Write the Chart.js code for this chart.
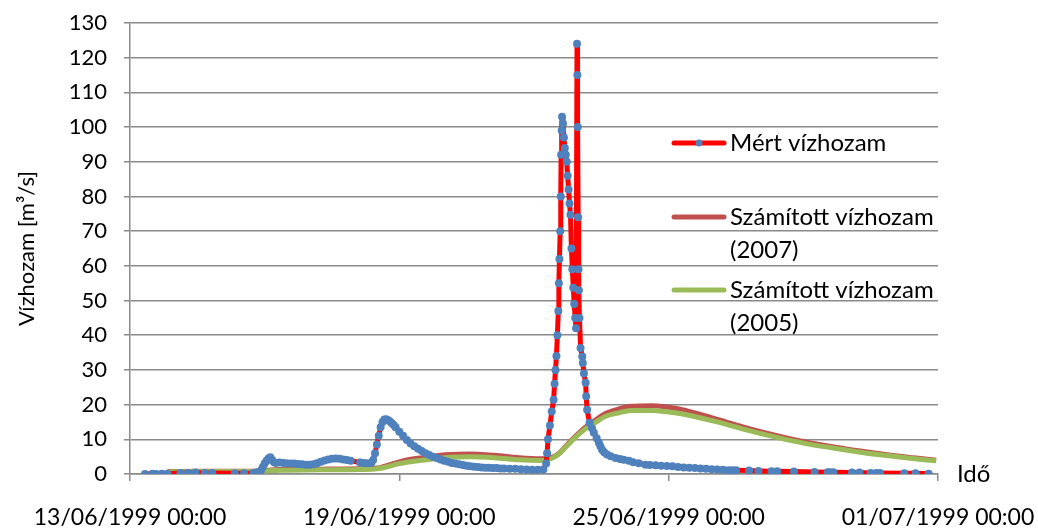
<!DOCTYPE html>
<html>
<head>
<meta charset="utf-8">
<script src="https://cdn.jsdelivr.net/npm/chart.js@4.4.1/dist/chart.umd.min.js"></script>
<style>
  html, body { margin: 0; padding: 0; background: #fff; }
  #chart { display: block; }
</style>
</head>
<body>
<canvas id="chart" width="1038" height="529"></canvas>
<script>
// time is in hours counted from 13/06/1999 00:00
const measuredHours = [
  8, 12, 14, 17, 20, 27, 31, 35, 40, 44,
  56, 61, 66, 68, 70, 71, 72, 73, 74, 75,
  76, 77, 78, 80, 82, 84, 86, 88, 90, 92,
  94, 96, 98, 100, 102, 104, 106, 108, 110, 112,
  114, 116, 118, 123, 125, 127, 129, 130, 131, 132,
  133, 134, 135, 136, 137, 138, 139, 140, 141, 142,
  144, 146, 148, 150, 152, 154, 156, 158, 160, 162,
  164, 166, 168, 170, 172, 174, 176, 178, 180, 182,
  184, 186, 188, 190, 192, 194, 196, 198, 200, 203,
  206, 209, 212, 215, 218, 221, 222.5, 223, 223.5, 224.5,
  225.5, 226.5, 227, 227.5, 228, 228.5, 229, 229.3, 229.6, 230,
  230.3, 230.5, 230.8, 231, 231.5, 232, 232.5, 233, 233.5, 234,
  234.5, 235, 235.5, 236, 236.5, 237, 237.5, 238, 238.5, 239,
  239.2, 239.4, 239.6, 239.8, 240, 240.3, 240.9, 241.8, 242.1, 242.7,
  243.6, 243.9, 244.4, 245.7, 247, 248, 249.5, 250.7, 251.5, 252.4,
  253.5, 255, 257, 259.6, 262, 264, 266.7, 269, 272, 275.6,
  278, 281, 284, 287, 290, 293, 296, 299, 302, 305,
  308, 311, 314, 317, 320, 322, 324, 331, 336, 343,
  346, 355, 366, 373, 374, 376, 386, 390, 396, 399,
  401, 414, 420, 427
];
const measuredFlow = [
  0, 0.1, 0, 0.1, 0.1, 0.3, 0.3, 0.4, 0.3, 0.3,
  0.2, 0.2, 0.3, 0.4, 1.0, 2.0, 3.0, 3.8, 4.5, 4.8,
  4.0, 3.4, 3.2, 3.3, 3.2, 3.1, 3.0, 3.0, 2.9, 2.8,
  2.7, 2.7, 2.8, 3.1, 3.5, 3.9, 4.2, 4.4, 4.5, 4.4,
  4.2, 4.0, 3.8, 3.3, 3.2, 3.1, 3.2, 4.0, 6.0, 8.5,
  11, 13.5, 15, 15.7, 15.8, 15.5, 15.1, 14.6, 14.1, 13.5,
  12.2, 11.0, 9.8, 8.8, 8.0, 7.3, 6.6, 6.0, 5.5, 5.0,
  4.6, 4.2, 3.8, 3.5, 3.2, 3.0, 2.8, 2.6, 2.4, 2.2,
  2.1, 2.0, 1.9, 1.8, 1.8, 1.7, 1.7, 1.6, 1.6, 1.5,
  1.5, 1.4, 1.3, 1.2, 1.2, 1.3, 3, 6, 10, 14,
  18, 21.4, 26, 30, 34, 40, 47, 55, 62, 70,
  80, 92, 99, 103, 101, 97, 94, 92, 90, 86,
  82, 78, 74.7, 65, 59, 53.7, 49, 45, 42, 124,
  115, 100, 74, 59, 53, 45, 36.3, 33.9, 32, 29,
  26.3, 22.4, 18.5, 14.8, 13.2, 11.9, 10.3, 9, 8, 7,
  6.3, 5.6, 5.1, 4.6, 4.3, 4.1, 3.8, 3.4, 3.1, 2.7,
  2.6, 2.5, 2.4, 2.3, 2.2, 2.0, 1.9, 1.8, 1.7, 1.6,
  1.5, 1.4, 1.3, 1.2, 1.1, 1.1, 1.1, 1.0, 0.9, 0.8,
  0.8, 0.7, 0.6, 0.5, 0.5, 0.5, 0.4, 0.4, 0.3, 0.3,
  0.3, 0.2, 0.2, 0.1
];

const modelHours = [
  20, 37, 53, 68, 80, 101, 123, 132, 139, 144, 151, 160, 171, 181, 195, 208, 220, 225, 229, 233,
  238, 243, 247, 254, 261, 268, 279, 293, 304, 315, 331, 347, 363, 382, 400, 416, 431
];
const model2007 = [
  0.7, 0.8, 0.8, 0.9, 1.3, 1.4, 1.5, 1.7, 2.7, 3.5, 4.3, 5.0, 5.6, 5.8, 5.4, 4.7, 4.4, 4.7, 5.8, 8.0,
  10.8, 13.3, 14.8, 17.4, 18.7, 19.5, 19.7, 18.8, 17.3, 15.6, 13.1, 10.9, 9.0, 7.3, 5.9, 4.8, 4.0
];
const model2005 = [
  0.6, 0.7, 0.7, 0.8, 1.1, 1.2, 1.3, 1.5, 2.3, 3.0, 3.6, 4.2, 4.8, 5.0, 4.7, 4.1, 3.9, 4.4, 5.6, 7.8,
  10.5, 12.8, 14.2, 16.6, 17.6, 18.3, 18.3, 17.5, 16.3, 14.9, 12.5, 10.4, 8.6, 7.0, 5.6, 4.6, 3.8
];

const seriesNames = ['Mért vízhozam', 'Számított vízhozam\n(2007)', 'Számított vízhozam\n(2005)'];
const yTitle = 'Vízhozam [m³/s]';
const xTitle = 'Idő';

const FONT = 'Lato, "Noto Sans", sans-serif';
const gridGray = '#8a8a8a';

const toPoints = (xs, ys) => xs.map((x, i) => ({ x: x, y: ys[i] }));

function fmtDate(hours) {
  const d = new Date(Date.UTC(1999, 5, 13) + hours * 3600000);
  const p = n => String(n).padStart(2, '0');
  return p(d.getUTCDate()) + '/' + p(d.getUTCMonth() + 1) + '/' + d.getUTCFullYear() +
    ' ' + p(d.getUTCHours()) + ':' + p(d.getUTCMinutes());
}

// legend on the right of the plot, multi-line labels
const sideLegend = {
  id: 'sideLegend',
  afterDraw(chart) {
    const ctx = chart.ctx;
    const rows = [143, 217, 290];
    ctx.save();
    ctx.font = '24px ' + FONT;
    ctx.textBaseline = 'middle';
    ctx.fillStyle = '#000';
    chart.data.datasets.forEach((ds, i) => {
      const y = rows[i];
      ctx.strokeStyle = ds.borderColor;
      ctx.lineWidth = 5;
      ctx.lineCap = 'round';
      ctx.beginPath();
      ctx.moveTo(674, y);
      ctx.lineTo(724, y);
      ctx.stroke();
      if (ds.pointRadius > 0) {
        ctx.fillStyle = ds.pointBackgroundColor;
        ctx.beginPath();
        ctx.arc(699, y, 3.5, 0, Math.PI * 2);
        ctx.fill();
        ctx.fillStyle = '#000';
      }
      ds.label.split('\n').forEach((line, k) => {
        ctx.fillText(line, 730, y + k * 33);
      });
    });
    // axis name at the end of the time axis
    const xs = chart.scales.x;
    ctx.fillText(xTitle, xs.right + 19, xs.top);
    ctx.restore();
  }
};

new Chart(document.getElementById('chart').getContext('2d'), {
  type: 'line',
  data: {
    datasets: [
      {
        label: seriesNames[0],
        data: toPoints(measuredHours, measuredFlow),
        borderColor: '#ff0000',
        borderWidth: 5,
        pointRadius: 4,
        pointBackgroundColor: '#4f81bd',
        pointBorderColor: '#4f81bd',
        pointBorderWidth: 0,
        order: 0
      },
      {
        label: seriesNames[1],
        data: toPoints(modelHours, model2007),
        borderColor: '#c0504d',
        borderWidth: 5,
        pointRadius: 0,
        cubicInterpolationMode: 'monotone',
        order: 2
      },
      {
        label: seriesNames[2],
        data: toPoints(modelHours, model2005),
        borderColor: '#9bbb59',
        borderWidth: 5,
        pointRadius: 0,
        cubicInterpolationMode: 'monotone',
        order: 1
      }
    ]
  },
  options: {
    responsive: false,
    animation: false,
    layout: { padding: { top: 23, right: 100, left: 0, bottom: 0 } },
    plugins: {
      legend: { display: false },
      tooltip: { enabled: false }
    },
    scales: {
      x: {
        type: 'linear',
        min: 0,
        max: 432,
        afterFit: s => { s.height = 55; s.paddingLeft = 0; s.paddingRight = 0; },
        grid: { drawOnChartArea: false, tickLength: 7, color: gridGray, lineWidth: 1.5 },
        border: { color: gridGray, width: 1.5 },
        ticks: {
          stepSize: 144,
          autoSkip: false,
          maxRotation: 0,
          padding: 23,
          color: '#000',
          font: { family: FONT, size: 23 },
          callback: v => fmtDate(v)
        }
      },
      y: {
        min: 0,
        max: 130,
        afterFit: s => { s.width = 130; s.paddingTop = 0; s.paddingBottom = 0; },
        grid: { color: gridGray, lineWidth: 1.5, tickLength: 6 },
        border: { color: gridGray, width: 1.5 },
        ticks: {
          stepSize: 10,
          padding: 17,
          color: '#000',
          font: { family: FONT, size: 22 }
        },
        title: {
          display: true,
          text: yTitle,
          color: '#000',
          font: { family: FONT, size: 22 },
          padding: { top: 14, bottom: 0 }
        }
      }
    }
  },
  plugins: [sideLegend]
});
</script>
</body>
</html>
